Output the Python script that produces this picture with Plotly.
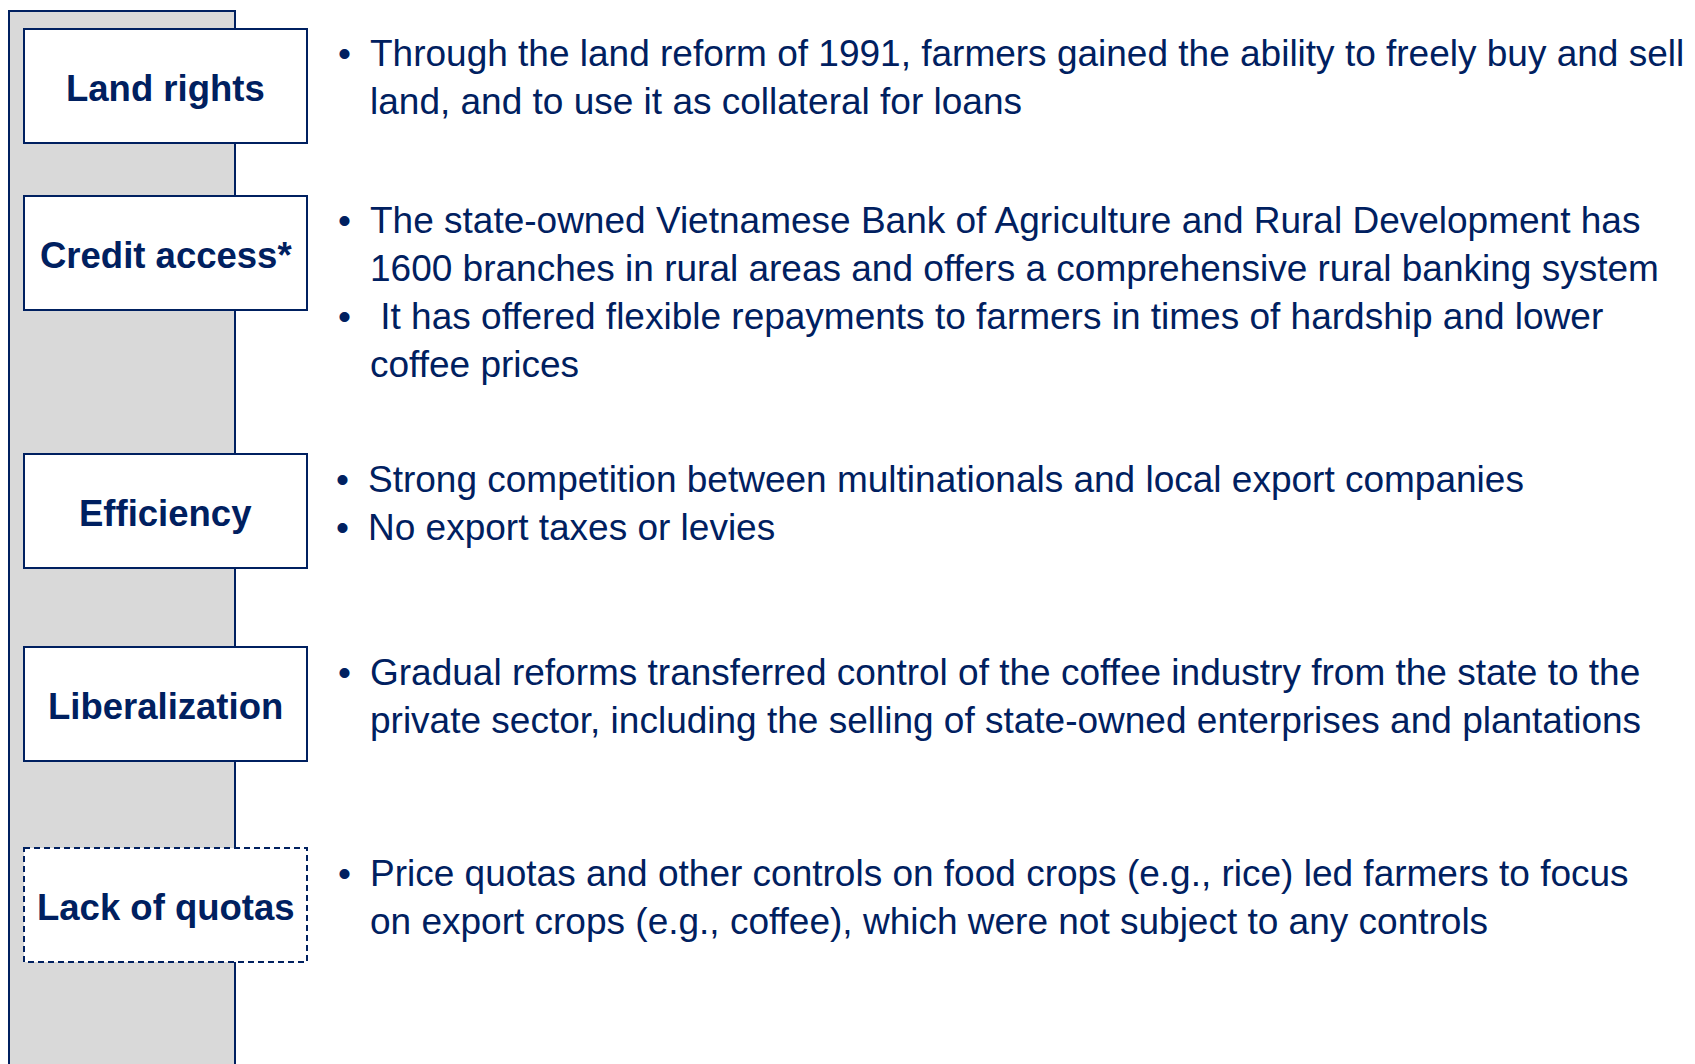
"""
Slide recreation: drivers of Vietnam's coffee sector growth
Left column of labelled boxes over a grey spine, bullet text on the right
"""

import plotly.graph_objects as go

# ============================================================================
# DATA
# ============================================================================

labels = ['Land rights', 'Credit access*', 'Efficiency', 'Liberalization', 'Lack of quotas']
dashed = [False, False, False, False, True]

# each entry: list of bullets, each bullet a list of lines
bullets = [
    [['Through the land reform of 1991, farmers gained the ability to freely buy and sell',
      'land, and to use it as collateral for loans']],
    [['The state-owned Vietnamese Bank of Agriculture and Rural Development has',
      '1600 branches in rural areas and offers a comprehensive rural banking system'],
     [' It has offered flexible repayments to farmers in times of hardship and lower',
      'coffee prices']],
    [['Strong competition between multinationals and local export companies'],
     ['No export taxes or levies']],
    [['Gradual reforms transferred control of the coffee industry from the state to the',
      'private sector, including the selling of state-owned enterprises and plantations']],
    [['Price quotas and other controls on food crops (e.g., rice) led farmers to focus',
      'on export crops (e.g., coffee), which were not subject to any controls']],
]

# ============================================================================
# LAYOUT CONSTANTS (page pixel space)
# ============================================================================

W, H = 1695, 1064
PAGE_MARGIN = 8  # browser body margin around the plot div
NAVY = '#002060'
GREY = '#D9D9D9'
FONT = 'Arial, Liberation Sans, sans-serif'

box_tops = [29, 196, 454, 647, 848]
box_h = 114
box_x0, box_x1 = 24, 307
first_line_y = [53, 220, 479, 672, 873]
x_shift = [0, 0, -2, 0, 0]
line_gap = 48
bullet_x, text_x = 344, 368

fig = go.Figure()

# grey spine behind the boxes
fig.add_shape(type='rect', x0=9, x1=235, y0=11, y1=H + 40,
              fillcolor=GREY, line=dict(color=NAVY, width=2), layer='above')

for i, label in enumerate(labels):
    y0 = box_tops[i]
    fig.add_shape(type='rect', x0=box_x0, x1=box_x1, y0=y0, y1=y0 + box_h,
                  fillcolor='white',
                  line=dict(color=NAVY, width=2, dash='6px,4px' if dashed[i] else 'solid'),
                  layer='above')
    fig.add_annotation(x=(box_x0 + box_x1) / 2, y=y0 + box_h / 2 + 2, text=f'<b>{label}</b>',
                       showarrow=False, xanchor='center', yanchor='middle',
                       font=dict(family=FONT, size=36.5, color=NAVY))

    # bullet text, one annotation per line to control spacing
    y = first_line_y[i]
    for bullet in bullets[i]:
        fig.add_annotation(x=bullet_x + x_shift[i], y=y, text='•', showarrow=False,
                           xanchor='center', yanchor='middle',
                           font=dict(family=FONT, size=37, color=NAVY))
        for line in bullet:
            txt = '&nbsp;' + line[1:] if line.startswith(' ') else line
            fig.add_annotation(x=text_x + x_shift[i], y=y, text=txt,
                               showarrow=False, xanchor='left', yanchor='middle',
                               font=dict(family=FONT, size=37, color=NAVY))
            y += line_gap

fig.update_layout(
    width=W, height=H,
    margin=dict(l=0, r=0, t=0, b=0),
    plot_bgcolor='white', paper_bgcolor='white',
    showlegend=False,
    xaxis=dict(range=[PAGE_MARGIN, W + PAGE_MARGIN], visible=False, fixedrange=True),
    yaxis=dict(range=[H + PAGE_MARGIN, PAGE_MARGIN], visible=False, fixedrange=True),
)

fig.write_html('out.html')
